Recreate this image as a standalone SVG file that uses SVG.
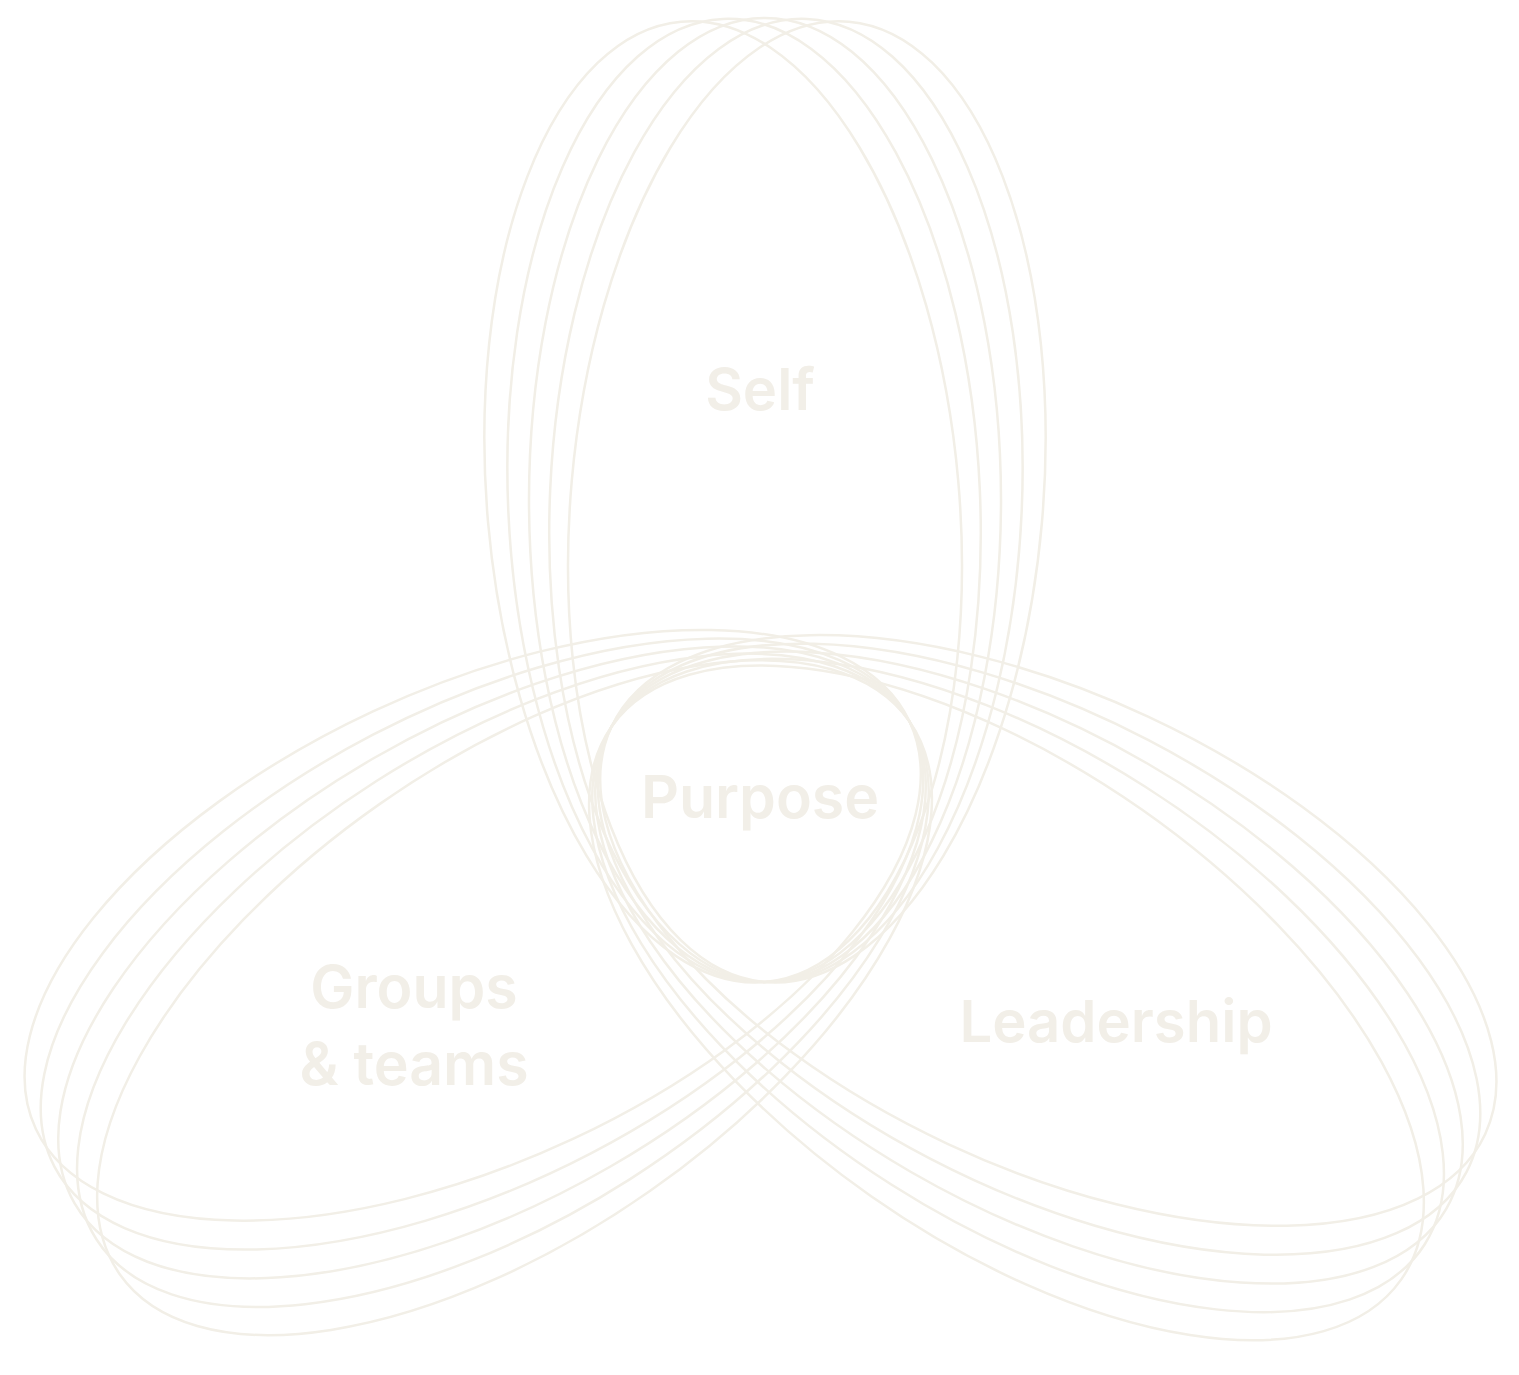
<svg xmlns="http://www.w3.org/2000/svg" xmlns:xlink="http://www.w3.org/1999/xlink" width="1519" height="1375" viewBox="0 0 1519 1375">
<style>
.l{fill:none;stroke:#f2efe7;stroke-width:2.5}
.t{fill:#f2efe8;font-family:Inter,"Noto Sans",sans-serif;font-weight:600;text-anchor:middle}
</style>
<defs>
<g id="loops">
<ellipse class="l" cx="765" cy="500" rx="236" ry="482" transform="rotate(-5 765 980)"/>
<ellipse class="l" cx="765" cy="500" rx="236" ry="482" transform="rotate(-2.5 765 980)"/>
<ellipse class="l" cx="765" cy="500" rx="236" ry="482"/>
<ellipse class="l" cx="765" cy="500" rx="236" ry="482" transform="rotate(2.5 765 980)"/>
<ellipse class="l" cx="765" cy="500" rx="236" ry="482" transform="rotate(5 765 980)"/>
</g>
</defs>
<g id="connectors">
<use xlink:href="#loops"/>
<use xlink:href="#loops" transform="rotate(120 762 810)"/>
<use xlink:href="#loops" transform="rotate(-120 762 810)"/>
</g>
<g id="self"><text class="t" x="760" y="410" font-size="58">Self</text></g>
<g id="purpose"><text class="t" x="760" y="818" font-size="59">Purpose</text></g>
<g id="groups"><text class="t" x="414" y="1008" font-size="59">Groups</text><text class="t" x="414" y="1085" font-size="59">&amp; teams</text></g>
<g id="leadership"><text class="t" x="1116" y="1042" font-size="58">Leadership</text></g>
</svg>
